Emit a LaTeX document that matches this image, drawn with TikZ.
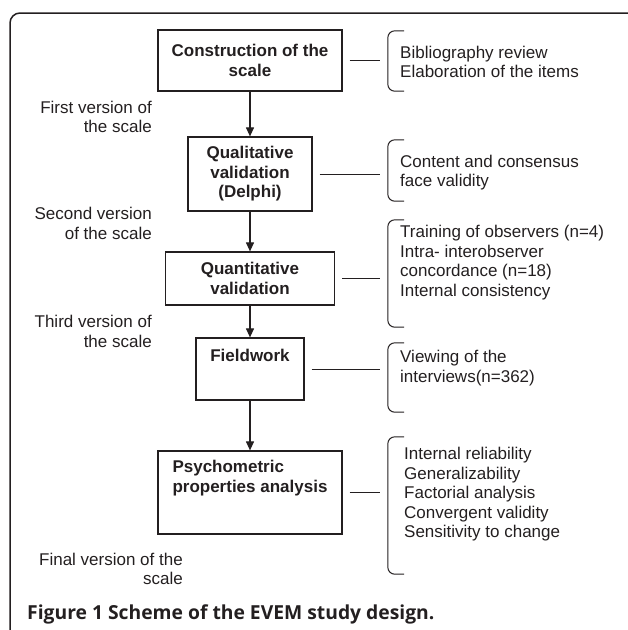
\documentclass[tikz,border=0pt]{standalone}
\usepackage{fontspec}
\setmainfont{Liberation Sans}
\newfontfamily\captionfont{Open Sans}
\usetikzlibrary{arrows.meta}
\definecolor{inkgray}{HTML}{231F20}

\begin{document}
\begin{tikzpicture}[
    x=1pt, y=-1pt,
    every node/.style={text=inkgray},
    stage/.style={draw=inkgray, line width=1.2pt, align=center, inner sep=0pt, font=\bfseries\fontsize{17}{19.5}\selectfont},
    stagetext/.style={inner sep=0pt, align=left, font=\bfseries\fontsize{17}{19.5}\selectfont},
    note/.style={anchor=west, align=left, inner sep=0pt, font=\fontsize{17}{19.5}\selectfont},
    version/.style={anchor=east, align=right, inner sep=0pt, font=\fontsize{17}{19.5}\selectfont},
    bracket/.style={minimum width=16pt, inner sep=0pt},
    arrow/.style={-{Triangle[length=9pt,width=8pt]}, draw=inkgray, line width=1.1pt},
    link/.style={draw=inkgray, line width=1pt, shorten <=7pt, shorten >=8pt},
    curl/.style={draw=inkgray, line width=1pt, rounded corners=7pt}
]
    \useasboundingbox (0,0) rectangle (628,630);
    % outer frame, cut by the page edge
    \begin{scope}
        \clip (0,0) rectangle (628,630);
        \draw[inkgray, line width=1.5pt, rounded corners=10pt] (10,13) rectangle (640,660);
    \end{scope}

    % stages
    \node[stage, minimum width=184pt, minimum height=61pt] (b1) at (250,60.5) {Construction of the\\scale};
    \node[stage, minimum width=124pt, minimum height=74pt] (b2) at (250,174) {Qualitative\\validation\\(Delphi)};
    \node[stage, minimum width=169pt, minimum height=53pt] (b3) at (250,278.5) {Quantitative\\validation};
    \node[stage, minimum width=108pt, minimum height=62pt,
          label={[stagetext, anchor=north, yshift=-12pt]north:Fieldwork}] (b4) at (250,369) {};
    \node[stage, minimum width=184pt, minimum height=83pt,
          label={[stagetext, anchor=north, yshift=-10pt]north:Psychometric\\properties analysis}] (b5) at (250,492.5) {};

    % versions on the left
    \node[version] (v1) at (152,117) {First version of\\the scale};
    \node[version] (v2) at (152,223.5) {Second version\\of the scale};
    \node[version] (v3) at (152,331.5) {Third version of\\the scale};
    \node[version] (v4) at (183,569) {Final version of the\\scale};

    % brackets and their lists
    \node[bracket, minimum height=60pt] (br1) at (396,61) {};
    \node[bracket, minimum height=61pt] (br2) at (396,170.5) {};
    \node[bracket, minimum height=107pt] (br3) at (396,273.5) {};
    \node[bracket, minimum height=69pt] (br4) at (396,377.5) {};
    \node[bracket, minimum height=137pt] (br5) at (396,505.5) {};
    \foreach \b in {br1,br2,br3,br4,br5}
        \draw[curl] (\b.north east) -- (\b.north west) -- (\b.south west) -- (\b.south east);

    \node[note] (n1) at (400,62) {Bibliography review\\Elaboration of the items};
    \node[note] (n2) at (400,172.5) {Content and consensus\\face validity};
    \node[note] (n3) at (400,262.5) {Training of observers (n=4)\\Intra- interobserver\\concordance (n=18)\\Internal consistency};
    \node[note] (n4) at (400,368) {Viewing of the\\interviews(n=362)};
    \node[note] (n5) at (404,494.5) {Internal reliability\\Generalizability\\Factorial analysis\\Convergent validity\\Sensitivity to change};

    % connectors
    \foreach \a/\b in {b1/b2,b2/b3,b3/b4,b4/b5}
        \draw[arrow] (\a) -- (\b);
    \foreach \i in {1,...,5}
        \draw[link] (b\i.east) -- (b\i.east -| br\i.west);

    % caption
    \node[anchor=west, inner sep=0pt, font=\captionfont\bfseries\fontsize{19.3}{22}\selectfont] (caption) at (27,614) {Figure 1 Scheme of the EVEM study design.};
\end{tikzpicture}
\end{document}
